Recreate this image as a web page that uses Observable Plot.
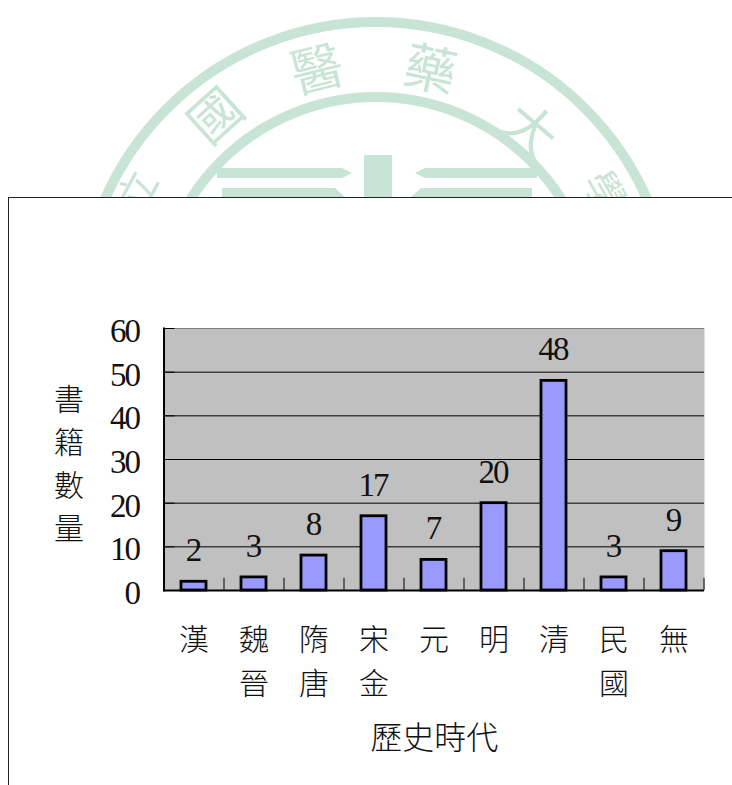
<!DOCTYPE html>
<html><head><meta charset="utf-8">
<script src="https://cdn.jsdelivr.net/npm/d3@7"></script>
<script src="https://cdn.jsdelivr.net/npm/@observablehq/plot@0.6"></script>
<style>
html,body{margin:0;padding:0;background:#fff;overflow:hidden}
#page{position:relative;width:732px;height:785px;overflow:hidden}
#seal,#panel,#chart{position:absolute}
#seal{left:0;top:0}
#panel{left:8px;top:197px;width:730px;height:600px;background:#fff;border:1px solid #222;box-sizing:border-box}
#chart{left:0;top:0}
#chart svg{background:transparent}
.digits text{letter-spacing:-2px}
</style></head><body>
<div id="page">
<svg id="seal" width="732" height="197" viewBox="0 0 732 197">
  <g fill="none" stroke="#c8e4d6" stroke-width="10">
    <circle cx="376" cy="318" r="296"/>
    <circle cx="376" cy="316" r="219"/>
  </g>
  <g fill="#c8e4d6">
    <rect x="364" y="155" width="28" height="45"/>
    <path d="M217 168H342L352 173L342 178H217Z M415 173L425 168H537V178H425Z M222 188H335L345 197H222Z M411 197L421 188H532V197Z"/>
    <g font-family="'Noto Sans CJK TC'" font-size="52" text-anchor="middle" dominant-baseline="central">
      <text transform="translate(316,66) rotate(-14)">醫</text>
      <text transform="translate(431,66) rotate(12)">藥</text>
      <text transform="translate(213,113) rotate(-42)">國</text>
      <text transform="translate(533,127) rotate(40)">大</text>
      <text transform="translate(135,190) rotate(-62)" font-size="40">立</text>
      <text transform="translate(607,190) rotate(60)" font-size="40">學</text>
    </g>
  </g>
</svg>
<div id="panel"></div>
<div id="chart"></div>
</div>
<script>
const categories = ["漢","魏晉","隋唐","宋金","元","明","清","民國","無"];
const bookCounts = [2,3,8,17,7,20,48,3,9];
const yTicks = [0,10,20,30,40,50,60];
const gridValues = [10,20,30,40,50];
const yTitle = "書籍數量";
const xTitle = "歷史時代";
const font = "'Liberation Serif','Noto Sans CJK TC',serif";
const rows = categories.map((c,i)=>({era:c,count:bookCounts[i]}));
const vertical = s => s.split("").join("\n");

const chart = Plot.plot({
  width:732, height:785,
  marginLeft:163.5, marginRight:28, marginTop:328, marginBottom:195,
  style:{fontFamily:font, color:"#111", background:"transparent"},
  x:{domain:categories, paddingInner:0.58, paddingOuter:0.29, label:null, axis:null},
  y:{domain:[0,60], ticks:yTicks, label:null, axis:null},
  marks:[
    Plot.frame({fill:"#c0c0c0", stroke:"none"}),
    Plot.ruleY(gridValues,{stroke:"#000",strokeWidth:1}),
    Plot.ruleY([60],{stroke:"#808080",strokeWidth:1}),
    Plot.axisY({values:yTicks, anchor:"left", tickSize:-11, text:null, label:null, stroke:"#000", strokeWidth:1}),
    Plot.axisY({values:yTicks, anchor:"left", tickSize:0, tickPadding:25, fontSize:33, label:null, dy:3, fontWeight:300, className:"digits"}),
    Plot.ruleX(categories,{x:d=>d, dx:30, y1:0, y2:2.8, stroke:"#000", strokeWidth:1}),
    Plot.barY(rows,{x:"era",y:"count",fill:"#9999ff",stroke:"#000",strokeWidth:2.8}),
    Plot.ruleY([0],{stroke:"#000",strokeWidth:2}),
    Plot.frame({anchor:"left", stroke:"#000", strokeWidth:2}),
    Plot.text(rows,{x:"era",y:"count",text:d=>String(d.count),dx:-1,dy:-31,fontSize:33,lineAnchor:"middle",fill:"#111",className:"digits"}),
    Plot.axisX({anchor:"bottom", tickSize:0, tickPadding:28, tickFormat:vertical, fontSize:30, lineHeight:1.47, label:null, fontWeight:300}),
    Plot.text([vertical(yTitle)],{frameAnchor:"left", dx:-95, dy:1, textAnchor:"middle", fontSize:30, lineHeight:1.43, fontWeight:300}),
    Plot.text([xTitle],{frameAnchor:"bottom", dy:158, fontSize:32, fontWeight:300})
  ]
});
document.getElementById("chart").appendChild(chart);
</script>
</body></html>
